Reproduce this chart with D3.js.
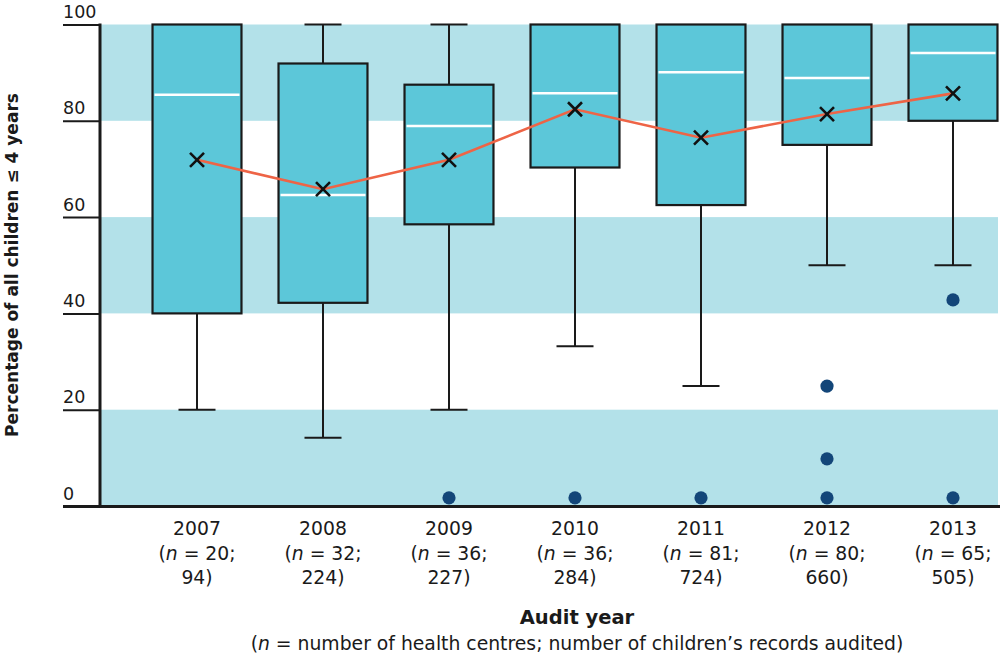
<!DOCTYPE html>
<html>
<head>
<meta charset="utf-8">
<script src="https://cdn.jsdelivr.net/npm/d3@7"></script>
<style>
  body { margin: 0; background: #fff; }
  svg { display: block; }
  text { font-family: "DejaVu Sans", sans-serif; fill: #1a1a1a; }
</style>
</head>
<body>
<svg id="chart" width="1000" height="656"></svg>
<script>
// audit years and sample sizes
const years    = ["2007", "2008", "2009", "2010", "2011", "2012", "2013"];
const nCentres = [20, 32, 36, 36, 81, 80, 65];
const nRecords = [94, 224, 227, 284, 724, 660, 505];

// box plot stats (percent)
const q1        = [40, 42.2, 58.5, 70.3, 62.5, 75, 80];
const q3        = [100, 91.9, 87.5, 100, 100, 100, 100];
const medians   = [85.4, 64.6, 78.9, 85.7, 90.1, 88.9, 94.1];
const means     = [71.9, 65.8, 71.9, 82.4, 76.5, 81.4, 85.7];
const whiskLow  = [20, 14.2, 20, 33.2, 24.9, 50, 50];
const whiskHigh = [100, 100, 100, 100, 100, 100, 100];
const outliers  = [[], [], [1.7], [1.7], [1.7], [24.9, 9.8, 1.7], [42.8, 1.7]];

const bands  = [[0, 20], [40, 60], [80, 100]];
const yTicks = [0, 20, 40, 60, 80, 100];

const svg = d3.select("#chart");
const plotLeft = 100, plotRight = 998, plotTop = 24.5, plotBottom = 506;

let y = d3.scaleLinear().domain([0, 100]).range([plotBottom, plotTop]);
let x = d3.scaleBand().domain(years).range([134, 1016])
          .paddingInner(0.294).paddingOuter(0.147);
const cx = d => x(d) + x.bandwidth() / 2;

// shaded bands
svg.selectAll(".band").data(bands).enter().append("rect")
   .attr("class", "band")
   .attr("x", plotLeft)
   .attr("width", plotRight - plotLeft)
   .attr("y", d => y(d[1]))
   .attr("height", d => y(d[0]) - y(d[1]))
   .attr("fill", "#b3e1e9");

// y axis with labels sitting on top of the tick lines
let yAxis = svg.append("g")
   .attr("transform", "translate(" + plotLeft + ",0)")
   .call(d3.axisLeft(y).tickValues(yTicks).tickSize(37).tickPadding(0));
yAxis.select(".domain").remove();
yAxis.selectAll(".tick line").attr("stroke", "#1a1a1a").attr("stroke-width", 2);
yAxis.selectAll(".tick text")
     .attr("x", -37).attr("y", -7).attr("dy", null)
     .attr("text-anchor", "start")
     .style("font-family", "DejaVu Sans")
     .style("font-size", "17.5px")
     .attr("fill", "#1a1a1a");

// whiskers
years.forEach(function(yr, i) {
  let g = svg.append("g");
  g.append("line").attr("x1", cx(yr)).attr("x2", cx(yr))
   .attr("y1", y(q1[i])).attr("y2", y(whiskLow[i]))
   .attr("stroke", "#1a1a1a").attr("stroke-width", 2);
  g.append("line").attr("x1", cx(yr) - 18.5).attr("x2", cx(yr) + 18.5)
   .attr("y1", y(whiskLow[i])).attr("y2", y(whiskLow[i]))
   .attr("stroke", "#1a1a1a").attr("stroke-width", 2);
  if (whiskHigh[i] > q3[i]) {
    g.append("line").attr("x1", cx(yr)).attr("x2", cx(yr))
     .attr("y1", y(q3[i])).attr("y2", y(whiskHigh[i]))
     .attr("stroke", "#1a1a1a").attr("stroke-width", 2);
    g.append("line").attr("x1", cx(yr) - 18.5).attr("x2", cx(yr) + 18.5)
     .attr("y1", y(whiskHigh[i])).attr("y2", y(whiskHigh[i]))
     .attr("stroke", "#1a1a1a").attr("stroke-width", 2);
  }
});

// boxes
svg.selectAll(".box").data(years).enter().append("rect")
   .attr("class", "box")
   .attr("x", d => x(d))
   .attr("width", x.bandwidth())
   .attr("y", (d, i) => y(q3[i]))
   .attr("height", (d, i) => y(q1[i]) - y(q3[i]))
   .attr("fill", "#5cc7d9")
   .attr("stroke", "#1a1a1a")
   .attr("stroke-width", 2.2);

// medians
svg.selectAll(".median").data(years).enter().append("line")
   .attr("x1", d => x(d) + 2)
   .attr("x2", d => x(d) + x.bandwidth() - 2)
   .attr("y1", (d, i) => y(medians[i]))
   .attr("y2", (d, i) => y(medians[i]))
   .attr("stroke", "#fff")
   .attr("stroke-width", 2.5);

// outliers
years.forEach(function(yr, i) {
  svg.selectAll(null).data(outliers[i]).enter().append("circle")
     .attr("cx", cx(yr))
     .attr("cy", d => y(d))
     .attr("r", 6.6)
     .attr("fill", "#134679");
});

// mean line + crosses
let meanLine = d3.line()
   .x((d, i) => cx(years[i]))
   .y(d => y(d));
svg.append("path")
   .attr("d", meanLine(means))
   .attr("fill", "none")
   .attr("stroke", "#ee6446")
   .attr("stroke-width", 2.6);

const s = 7;
svg.selectAll(".mean").data(means).enter().append("path")
   .attr("class", "mean")
   .attr("d", (d, i) => {
     let px = cx(years[i]), py = y(d);
     return "M" + (px - s) + "," + (py - s) + "L" + (px + s) + "," + (py + s) +
            "M" + (px - s) + "," + (py + s) + "L" + (px + s) + "," + (py - s);
   })
   .attr("stroke", "#111")
   .attr("stroke-width", 2.6)
   .attr("fill", "none");

// axis lines
svg.append("line").attr("x1", plotLeft).attr("x2", plotLeft).attr("y1", plotTop - 1).attr("y2", plotBottom + 1.5)
   .attr("stroke", "#1a1a1a").attr("stroke-width", 3);
svg.append("line").attr("x1", 63).attr("x2", 1000).attr("y1", plotBottom + 0.5).attr("y2", plotBottom + 0.5)
   .attr("stroke", "#1a1a1a").attr("stroke-width", 3);

// x labels
years.forEach(function(yr, i) {
  let t = svg.append("text")
     .attr("text-anchor", "middle")
     .style("font-size", "18.8px");
  t.append("tspan").attr("x", cx(yr)).attr("y", 535).text(yr);
  let l2 = t.append("tspan").attr("x", cx(yr)).attr("y", 559.5);
  l2.text("(");
  t.append("tspan").style("font-style", "italic").text("n");
  t.append("tspan").text(" = " + nCentres[i] + ";");
  t.append("tspan").attr("x", cx(yr)).attr("y", 584).text(nRecords[i] + ")");
});

// x title
svg.append("text")
   .attr("x", 577).attr("y", 624)
   .attr("text-anchor", "middle")
   .style("font-size", "19.5px")
   .style("font-weight", "bold")
   .text("Audit year");
let sub = svg.append("text")
   .attr("x", 577).attr("y", 650)
   .attr("text-anchor", "middle")
   .style("font-size", "18.8px");
sub.append("tspan").text("(");
sub.append("tspan").style("font-style", "italic").text("n");
sub.append("tspan").text(" = number of health centres; number of children\u2019s records audited)");

// y title
svg.append("text")
   .attr("transform", "translate(18,265) rotate(-90)")
   .attr("text-anchor", "middle")
   .style("font-size", "17px")
   .style("font-weight", "bold")
   .text("Percentage  of all children \u2264 4 years");
</script>
</body>
</html>
